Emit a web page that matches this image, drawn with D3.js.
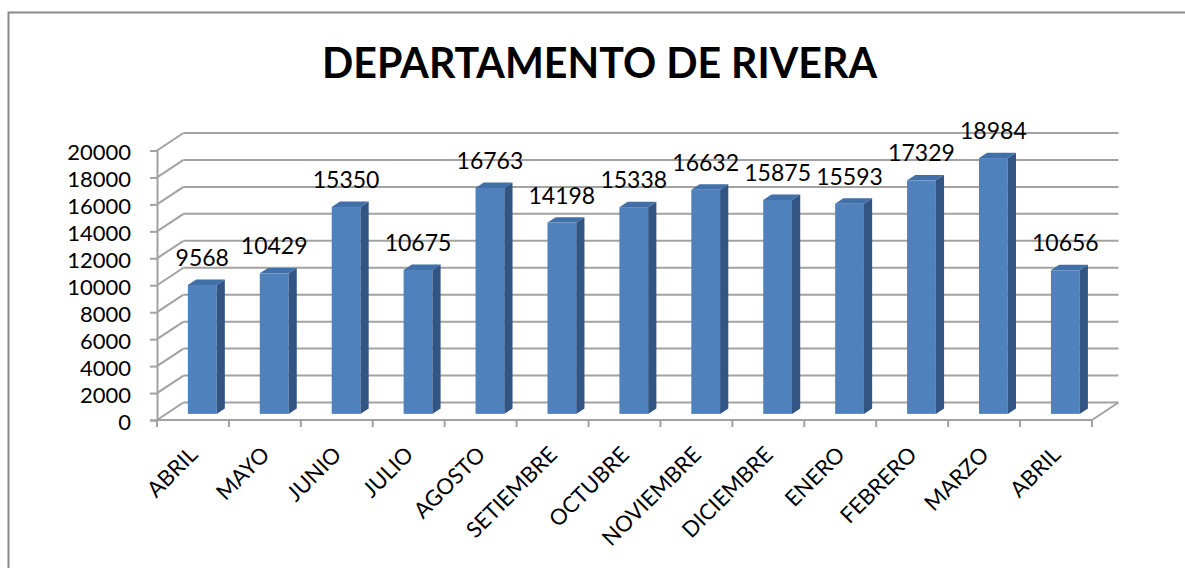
<!DOCTYPE html>
<html>
<head>
<meta charset="utf-8">
<script src="https://cdn.jsdelivr.net/npm/d3@7"></script>
<style>
  body { margin: 0; background: #fff; }
  text { font-family: Lato, "Noto Sans", sans-serif; fill: #000; }
</style>
</head>
<body>
<div id="chart"></div>
<script>
// months shown on the x axis (ABRIL appears twice, so index is the key)
var categories = ["ABRIL", "MAYO", "JUNIO", "JULIO", "AGOSTO", "SETIEMBRE", "OCTUBRE",
    "NOVIEMBRE", "DICIEMBRE", "ENERO", "FEBRERO", "MARZO", "ABRIL"]
var values = [9568, 10429, 15350, 10675, 16763, 14198, 15338, 16632, 15875, 15593, 17329, 18984, 10656]
var yTicks = [0, 2000, 4000, 6000, 8000, 10000, 12000, 14000, 16000, 18000, 20000]
var title = "DEPARTAMENTO DE RIVERA"

var W = 1185, H = 568

// front plane of the 3d box
var pLeft = 157, pRight = 1092, pBottom = 420, pTop = 150.5
// offset from the front plane to the back wall
var DX = 26.5, DY = -17.5
var t0 = 0.35, t1 = 0.66   // bar depth, as fraction of box depth

var svg = d3.select("#chart")
    .append("svg")
    .attr("width", W)
    .attr("height", H)

svg.append("rect")
    .attr("x", 8.5).attr("y", 12.5)
    .attr("width", W + 20).attr("height", H + 20)
    .attr("fill", "#fff")
    .attr("stroke", "#8a8a8a")
    .attr("stroke-width", 2)

var x = d3.scaleBand()
    .domain(d3.range(categories.length))
    .range([pLeft, pRight])

var y = d3.scaleLinear()
    .domain([0, 20000])
    .range([pBottom, pTop])

var gridColor = "#a2a2a2"

// back wall gridlines + side wall diagonals
var grid = svg.append("g")
grid.selectAll("line.back")
    .data(yTicks)
    .enter()
    .append("line")
    .attr("x1", pLeft + DX).attr("x2", pRight + DX)
    .attr("y1", function (d) { return y(d) + DY })
    .attr("y2", function (d) { return y(d) + DY })
    .attr("stroke", gridColor).attr("stroke-width", 2)
grid.selectAll("line.side")
    .data(yTicks)
    .enter()
    .append("line")
    .attr("x1", pLeft).attr("x2", pLeft + DX)
    .attr("y1", function (d) { return y(d) })
    .attr("y2", function (d) { return y(d) + DY })
    .attr("stroke", gridColor).attr("stroke-width", 2)

// floor edges
grid.append("line")
    .attr("x1", pLeft).attr("x2", pRight)
    .attr("y1", pBottom).attr("y2", pBottom)
    .attr("stroke", gridColor).attr("stroke-width", 2)
grid.append("line")
    .attr("x1", pRight).attr("x2", pRight + DX)
    .attr("y1", pBottom).attr("y2", pBottom + DY)
    .attr("stroke", gridColor).attr("stroke-width", 2)

// y axis
var yAxis = svg.append("g")
    .attr("transform", "translate(" + pLeft + ",0)")
    .call(d3.axisLeft(y).tickValues(yTicks).tickSize(7).tickPadding(19).tickFormat(d3.format("d")))
yAxis.select(".domain").attr("stroke", gridColor).attr("stroke-width", 2)
yAxis.selectAll(".tick line").attr("stroke", gridColor).attr("stroke-width", 2)
yAxis.selectAll(".tick text")
    .attr("font-size", 22)
    .attr("font-family", "Lato, sans-serif")
    .attr("fill", "#000")
    .attr("dy", "0.42em")

// x ticks at band edges
var edges = d3.range(categories.length + 1)
svg.selectAll("line.xtick")
    .data(edges)
    .enter()
    .append("line")
    .attr("x1", function (d) { return pLeft + d * x.step() })
    .attr("x2", function (d) { return pLeft + d * x.step() })
    .attr("y1", pBottom).attr("y2", pBottom + 7)
    .attr("stroke", gridColor).attr("stroke-width", 2)

// category labels
svg.selectAll("text.cat")
    .data(categories)
    .enter()
    .append("text")
    .attr("text-anchor", "end")
    .attr("font-size", 22)
    .attr("transform", function (d, i) {
        return "translate(" + (x(i) + x.bandwidth() / 2 + 6) + "," + 456 + ") rotate(-45)"
    })
    .text(function (d) { return d })

// bars
var barW = x.bandwidth() * 0.4
function px(X, t) { return X + DX * t }
function py(Y, t) { return Y + DY * t }

var bars = svg.selectAll("g.bar")
    .data(values)
    .enter()
    .append("g")

bars.each(function (v, i) {
    var g = d3.select(this)
    var xl = x(i) + (x.bandwidth() - barW) / 2
    var xr = xl + barW
    var yt = y(v), yb = y(0)
    // front
    g.append("rect")
        .attr("x", px(xl, t0)).attr("y", py(yt, t0))
        .attr("width", barW).attr("height", yb - yt)
        .attr("fill", "#4f81bd")
    // side
    g.append("polygon")
        .attr("points", [
            [px(xr, t0), py(yt, t0)], [px(xr, t0), py(yb, t0)],
            [px(xr, t1), py(yb, t1)], [px(xr, t1), py(yt, t1)]
        ].join(" "))
        .attr("fill", "#325584")
    // top
    g.append("polygon")
        .attr("points", [
            [px(xl, t0), py(yt, t0)], [px(xr, t0), py(yt, t0)],
            [px(xr, t1), py(yt, t1)], [px(xl, t1), py(yt, t1)]
        ].join(" "))
        .attr("fill", "#416fa8")
    // value label
    g.append("text")
        .attr("x", px(xl + barW / 2, t0))
        .attr("y", py(yt, t0) - 19)
        .attr("text-anchor", "middle")
        .attr("font-size", 23)
        .text(v)
})

svg.append("text")
    .attr("x", 599.5)
    .attr("y", 78)
    .attr("text-anchor", "middle")
    .attr("font-size", 42)
    .attr("font-weight", "bold")
    .attr("textLength", 555)
    .attr("lengthAdjust", "spacingAndGlyphs")
    .text(title)
</script>
</body>
</html>
